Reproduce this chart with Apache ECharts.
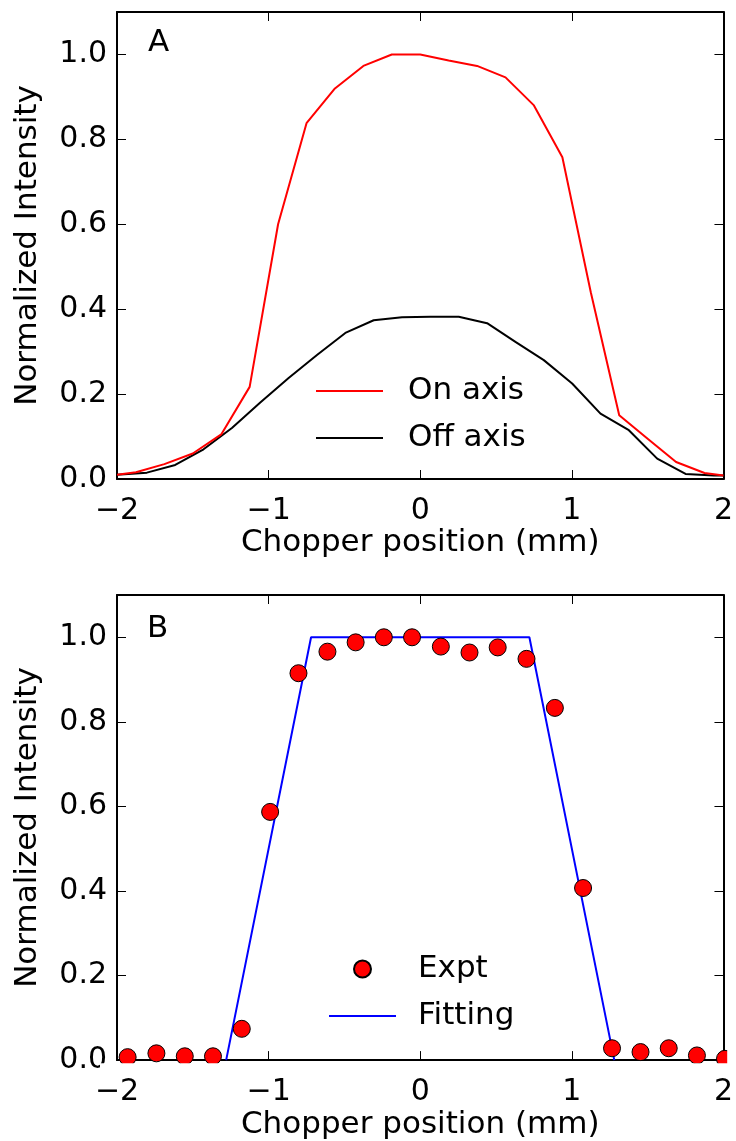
<!DOCTYPE html>
<html>
<head>
<meta charset="utf-8">
<script src="https://cdn.jsdelivr.net/npm/echarts@6/dist/echarts.min.js"></script>
<style>
html,body{margin:0;padding:0;background:#fff;}
#chart{width:736px;height:1141px;}
</style>
</head>
<body>
<div id="chart"></div>
<script>
// ---- Panel A data ----
var onAxisX  = [-2.0, -1.875, -1.6875, -1.5, -1.3125, -1.125, -0.9375, -0.75, -0.5625, -0.375, -0.1875, 0, 0.1875, 0.375, 0.5625, 0.75, 0.9375, 1.125, 1.3125, 1.5, 1.6875, 1.875, 2.0];
var onAxisY  = [0.010, 0.016, 0.035, 0.060, 0.105, 0.217, 0.600, 0.838, 0.920, 0.973, 1.000, 1.000, 0.986, 0.973, 0.946, 0.880, 0.758, 0.440, 0.150, 0.095, 0.040, 0.014, 0.008];
var offAxisX = [-2.0, -1.803, -1.616, -1.429, -1.242, -1.055, -0.868, -0.681, -0.494, -0.307, -0.12, 0.067, 0.254, 0.441, 0.628, 0.815, 1.002, 1.189, 1.376, 1.563, 1.75, 1.937, 2.0];
var offAxisY = [0.010, 0.015, 0.033, 0.070, 0.120, 0.180, 0.238, 0.292, 0.344, 0.374, 0.381, 0.382, 0.382, 0.367, 0.323, 0.280, 0.225, 0.154, 0.115, 0.048, 0.012, 0.008, 0.008];
// ---- Panel B data ----
var exptX = [-1.93, -1.74, -1.553, -1.367, -1.177, -0.99, -0.803, -0.612, -0.426, -0.24, -0.054, 0.136, 0.325, 0.511, 0.701, 0.888, 1.074, 1.265, 1.453, 1.639, 1.825, 2.01];
var exptY = [0.007, 0.016, 0.009, 0.009, 0.074, 0.587, 0.915, 0.966, 0.988, 1.000, 1.000, 0.978, 0.964, 0.976, 0.949, 0.833, 0.407, 0.028, 0.019, 0.028, 0.011, 0.003];
var fitX = [-1.28, -0.72, 0.72, 1.28];
var fitY = [0, 1, 1, 0];
// ---- Axis ticks ----
var xTicks = [-2, -1, 0, 1, 2];
var yTicks = [0.0, 0.2, 0.4, 0.6, 0.8, 1.0];
var seriesNames = ['On axis', 'Off axis', 'Expt', 'Fitting'];
var panelLabels = ['A', 'B'];
var xTitle = 'Chopper position (mm)';
var yTitle = 'Normalized Intensity';

function pairs(xs, ys) { return xs.map(function (x, i) { return [x, ys[i]]; }); }

var FONT = 'DejaVu Sans';
var xMin = xTicks[0], xMax = xTicks[xTicks.length - 1];
var xStep = xTicks[1] - xTicks[0];
var yStep = Math.round((yTicks[1] - yTicks[0]) * 10) / 10;

function fmtX(v) { return v < 0 ? '\u2212' + Math.abs(v) : String(v); }

function xAxes(gridIndex) {
  var common = {
    type: 'value', gridIndex: gridIndex, min: xMin, max: xMax, interval: xStep,
    splitLine: {show: false},
    axisLine: {show: true, onZero: false, lineStyle: {color: '#000', width: 2}},
    axisTick: {show: true, inside: true, length: 9, lineStyle: {color: '#000', width: 1}}
  };
  return [
    Object.assign({}, common, {
      position: 'bottom',
      name: xTitle, nameLocation: 'middle', nameGap: 42,
      nameTextStyle: {fontFamily: FONT, fontSize: 31, color: '#000', lineHeight: 31},
      axisLabel: {show: true, margin: 17, fontFamily: FONT, fontSize: 30, color: '#000', lineHeight: 31, formatter: fmtX}
    }),
    Object.assign({}, common, {position: 'top', axisLabel: {show: false}})
  ];
}
function yAxes(gridIndex) {
  var common = {
    type: 'value', gridIndex: gridIndex, min: 0, max: 1.1, interval: yStep,
    splitLine: {show: false},
    axisLine: {show: true, onZero: false, lineStyle: {color: '#000', width: 2}},
    axisTick: {show: true, inside: true, length: 9, lineStyle: {color: '#000', width: 1}}
  };
  return [
    Object.assign({}, common, {
      position: 'left',
      name: yTitle, nameLocation: 'middle', nameGap: 74, nameRotate: 90,
      nameTextStyle: {fontFamily: FONT, fontSize: 31, color: '#000', lineHeight: 31},
      axisLabel: {show: true, margin: 10, fontFamily: FONT, fontSize: 30, color: '#000',
        showMaxLabel: false,
        formatter: function (v) { return v > 1.05 ? '' : v.toFixed(1); }}
    }),
    Object.assign({}, common, {position: 'right', axisLabel: {show: false}})
  ];
}

var legendText = function (padLeft) {
  return {fontFamily: FONT, fontSize: 31, color: '#000', lineHeight: 31, padding: [0, 0, 0, padLeft]};
};

var option = {
  animation: false,
  backgroundColor: '#fff',
  title: [
    {text: panelLabels[0], left: 148, top: 27, padding: 0,
     textStyle: {fontFamily: FONT, fontSize: 31, fontWeight: 'normal', color: '#000', lineHeight: 31}},
    {text: panelLabels[1], left: 147, top: 613, padding: 0,
     textStyle: {fontFamily: FONT, fontSize: 31, fontWeight: 'normal', color: '#000', lineHeight: 31}}
  ],
  grid: [
    {left: 117, top: 12, width: 609, height: 467},
    {left: 117, top: 595, width: 609, height: 467}
  ],
  legend: [
    {orient: 'vertical', left: 315, top: 375.5, padding: 0, itemGap: 16, itemWidth: 67, itemHeight: 14,
     selectedMode: false, textStyle: legendText(20),
     data: [{name: seriesNames[0], itemStyle: {opacity: 0}}, {name: seriesNames[1], itemStyle: {opacity: 0}}]},
    {orient: 'vertical', left: 328, top: 953.5, padding: 0, itemGap: 16, itemWidth: 67, itemHeight: 17,
     selectedMode: false, textStyle: legendText(17),
     data: [{name: seriesNames[2]}, {name: seriesNames[3], itemStyle: {opacity: 0}}]}
  ],
  xAxis: xAxes(0).concat(xAxes(1)),
  yAxis: yAxes(0).concat(yAxes(1)),
  graphic: [
    {type: 'rect', shape: {x: 100, y: 1063.2, width: 636, height: 14}, style: {fill: '#fff'}, z: 10, silent: true},
    {type: 'rect', shape: {x: 727.2, y: 585, width: 9, height: 480}, style: {fill: '#fff'}, z: 10, silent: true}
  ],
  series: [
    {name: seriesNames[0], type: 'line', xAxisIndex: 0, yAxisIndex: 0, data: pairs(onAxisX, onAxisY),
     symbol: 'none', lineStyle: {color: '#ff0000', width: 2}, itemStyle: {color: '#ff0000'}, silent: true, z: 3},
    {name: seriesNames[1], type: 'line', xAxisIndex: 0, yAxisIndex: 0, data: pairs(offAxisX, offAxisY),
     symbol: 'none', lineStyle: {color: '#000000', width: 2}, itemStyle: {color: '#000000'}, silent: true, z: 2},
    {name: seriesNames[3], type: 'line', xAxisIndex: 2, yAxisIndex: 2, data: pairs(fitX, fitY),
     symbol: 'none', lineStyle: {color: '#0000ff', width: 2}, itemStyle: {color: '#0000ff'}, silent: true, z: 2},
    {name: seriesNames[2], type: 'scatter', xAxisIndex: 2, yAxisIndex: 2, data: pairs(exptX, exptY),
     symbol: 'circle', symbolSize: 17, clip: false,
     itemStyle: {color: '#ff0000', borderColor: '#000', borderWidth: 1, opacity: 1}, silent: true, z: 3}
  ]
};

var chart = echarts.init(document.getElementById('chart'), null, {renderer: 'canvas'});
chart.setOption(option);
</script>
</body>
</html>
